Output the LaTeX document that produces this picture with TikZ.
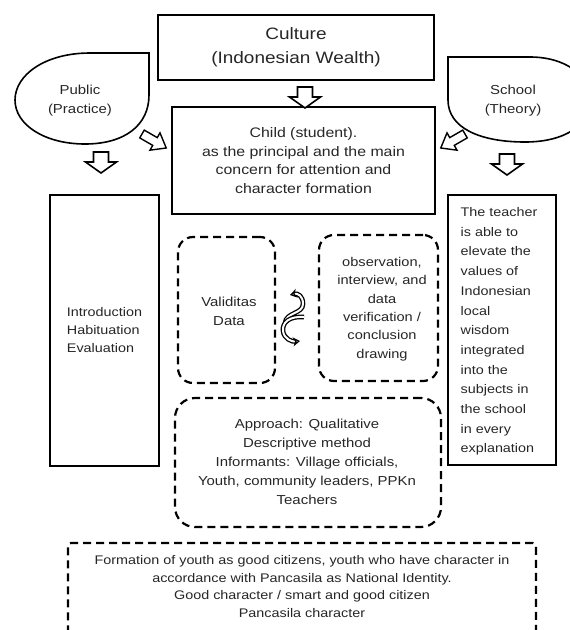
\documentclass[tikz,border=0pt]{standalone}
\usepackage{fontspec}
\setmainfont{Liberation Sans}[FakeStretch=1.15]
\usetikzlibrary{arrows.meta}
\begin{document}
\begin{tikzpicture}[x=1pt,y=-1pt,
  box/.style={draw, line width=2pt, inner sep=0pt, align=center, text=black!85},
  dbox/.style={draw, line width=2.2pt, dash pattern=on 8pt off 5pt, rounded corners=15pt, inner sep=0pt},
  txt/.style={inner sep=0pt, align=center, text=black!85, font=\fontsize{13}{19}\selectfont},
  drop/.style={line width=1.6pt},
  swaparrow/.style={double=white, double distance=2pt, line width=1.3pt, -{Stealth[length=7pt,width=9pt,open,fill=white]}},
  pics/bigarrow/.style={code={\draw[line width=1.6pt, fill=white, line join=miter]
      (-7.5,0) -- (7.5,0) -- (7.5,10) -- (15.5,10) -- (0,21) -- (-15.5,10) -- (-7.5,10) -- cycle;}},
  pics/smallarrow/.style={code={\draw[line width=1.4pt, fill=white, line join=miter]
      (-4.5,0) -- (4.5,0) -- (4.5,15) -- (10,15) -- (0,28) -- (-10,15) -- (-4.5,15) -- cycle;}}
]
\useasboundingbox (0,0) rectangle (570,630);
\clip (0,0) rectangle (570,630);

% teardrop shapes
\draw[drop] (149,53) -- (90,53) .. controls (45,53) and (15,75) .. (15,100)
  .. controls (15,125) and (45,144) .. (85,144) .. controls (125,144) and (149,125) .. (149,95) -- cycle;
\draw[drop] (448,57) -- (530,57) .. controls (565,57) and (590,75) .. (590,100)
  .. controls (590,125) and (565,142) .. (525,142) .. controls (480,142) and (448,128) .. (448,100) -- cycle;
\node[txt] (public) at (80,101) {Public\\(Practice)};
\node[txt] (school) at (513,101) {School\\(Theory)};

% main boxes
\node[box, minimum width=276, minimum height=65, font=\fontsize{16.5}{24}\selectfont] (culture) at (296,47.5) {Culture\\(Indonesian Wealth)};
\node[box, minimum width=263, minimum height=107, font=\fontsize{13.8}{18.5}\selectfont] (child) at (303.5,160.5) {Child (student).\\as the principal and the main\\concern for attention and\\character formation};
\node[box, minimum width=109, minimum height=271] (lbox) at (104.5,330.5) {};
\node[txt, align=left, font=\fontsize{12.5}{18}\selectfont] (ltext) at (lbox.center) {Introduction\\Habituation\\Evaluation};
\node[box, minimum width=108, minimum height=270] (tbox) at (502,330) {};
\node[txt, align=left, font=\fontsize{12.5}{19.7}\selectfont] (ttext) at (499,331.5) {The teacher\\is able to\\elevate the\\values of\\Indonesian\\local\\wisdom\\integrated\\into the\\subjects in\\the school\\in every\\explanation};

% dashed boxes
\node[dbox, minimum width=97, minimum height=146] (valid) at (226.5,310) {};
\node[txt] (vtext) at (229,311.5) {Validitas\\Data};
\node[dbox, minimum width=119, minimum height=146] (obs) at (378.5,308) {};
\node[txt, font=\fontsize{12.7}{18.4}\selectfont] (otext) at (382,309) {observation,\\interview, and\\data\\verification /\\conclusion\\drawing};
\node[dbox, rounded corners=20pt, minimum width=266, minimum height=129] (appr) at (308,462.5) {};
\node[txt] (atext) at (307,462) {Approach: Qualitative\\Descriptive method\\Informants: Village officials,\\Youth, community leaders, PPKn\\Teachers};
\node[dbox, rounded corners=3pt, minimum width=468, minimum height=120] (goal) at (302,603) {};
\node[txt, font=\fontsize{12.5}{17.7}\selectfont] (gtext) at (302,586.5) {Formation of youth as good citizens, youth who have character in\\accordance with Pancasila as National Identity.\\Good character / smart and good citizen\\Pancasila character};

% block arrows
\pic at (305,87) {bigarrow};
\pic at (101,152) {bigarrow};
\pic at (507,154) {bigarrow};
\pic[rotate=60] at (142,134) {smallarrow};
\pic[rotate=-60] at (465,134) {smallarrow};

% swap icon between valid and obs
\draw[swaparrow] (285,323) .. controls (286,312) and (303,314) .. (303,304) .. controls (303,296) and (298,293) .. (290,295);
\draw[swaparrow] (304,317) .. controls (290,316) and (282,322) .. (283,331) .. controls (284,339) and (292,342) .. (300,341);
\end{tikzpicture}
\end{document}
